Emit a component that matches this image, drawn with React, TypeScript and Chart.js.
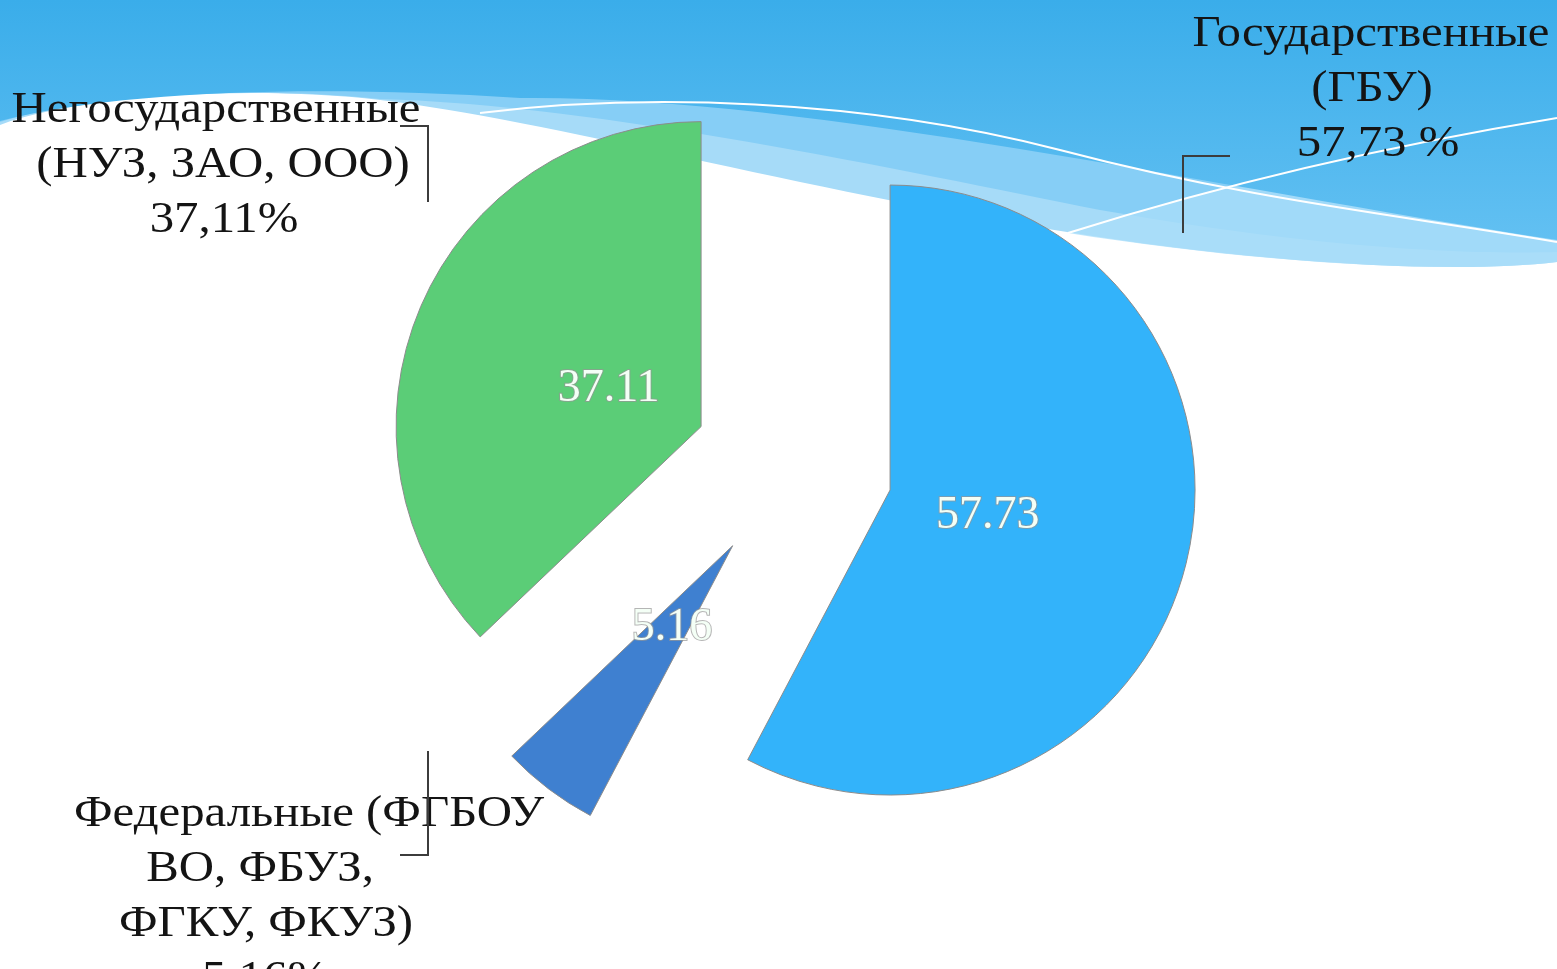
import React, { useEffect, useRef } from "react";
import { Chart, registerables } from "chart.js";

Chart.register(...registerables);

// ---- data ----
const categories = [
  "Государственные (ГБУ)",
  "Федеральные (ФГБОУ ВО, ФБУЗ, ФГКУ, ФКУЗ)",
  "Негосударственные (НУЗ, ЗАО, ООО)",
];
const values = [57.73, 5.16, 37.11];
const valueLabels = ["57.73", "5.16", "37.11"];
const calloutTexts = [
  ["Государственные", "(ГБУ)", "57,73 %"],
  ["Федеральные (ФГБОУ", "ВО, ФБУЗ,", "ФГКУ, ФКУЗ)", "5,16%"],
  ["Негосударственные", "(НУЗ, ЗАО, ООО)", "37,11%"],
];
const sliceColors = ["#33b3fa", "#3f80d0", "#5bcd77"];

// ---- layout / style ----
const EXPLODE = 100;
const SERIF = '"Liberation Serif", "Times New Roman", serif';
const TEXT_STRETCH = 1.085;
const calloutLayout = [
  { xs: [1371, 1372, 1378], y: 46 },
  { xs: [309, 260, 266, 265], y: 826 },
  { xs: [216, 223, 224], y: 122 },
];
const leaderLines = [
  [[1230, 156], [1183, 156], [1183, 233]],
  [[428, 751], [428, 855], [400, 855]],
  [[400, 126], [428, 126], [428, 202]],
];

const backgroundPlugin = {
  id: "slideBackground",
  beforeDraw(chart: any) {
    const ctx = chart.ctx as CanvasRenderingContext2D;
    const w = chart.width;
    ctx.save();
    ctx.fillStyle = "#ffffff";
    ctx.fillRect(0, 0, w, chart.height);

    // lightest band (above white boundary)
    ctx.beginPath();
    ctx.moveTo(0, 0);
    ctx.lineTo(0, 125);
    ctx.bezierCurveTo(80, 95, 250, 85, 380, 100);
    ctx.bezierCurveTo(550, 120, 800, 190, 1067, 232);
    ctx.bezierCurveTo(1250, 262, 1450, 275, 1557, 262);
    ctx.lineTo(w, 0);
    ctx.closePath();
    ctx.fillStyle = "#a6dbf8";
    ctx.fill();

    // mid band
    ctx.beginPath();
    ctx.moveTo(0, 0);
    ctx.lineTo(0, 122);
    ctx.bezierCurveTo(80, 95, 250, 85, 380, 99);
    ctx.bezierCurveTo(600, 105, 900, 170, 1100, 210);
    ctx.bezierCurveTo(1300, 245, 1450, 255, 1557, 252);
    ctx.lineTo(w, 0);
    ctx.closePath();
    ctx.fillStyle = "#86cef6";
    ctx.fill();

    // lighter wedge below the rising line
    ctx.beginPath();
    ctx.moveTo(1068, 233);
    ctx.quadraticCurveTo(1300, 160, 1557, 118);
    ctx.lineTo(1557, 262);
    ctx.bezierCurveTo(1450, 275, 1250, 262, 1068, 233);
    ctx.closePath();
    ctx.fillStyle = "rgba(170,221,249,0.75)";
    ctx.fill();

    // top gradient
    const g = ctx.createLinearGradient(0, 0, 0, 240);
    g.addColorStop(0, "#3aadea");
    g.addColorStop(1, "#62c0f2");
    ctx.beginPath();
    ctx.moveTo(0, 0);
    ctx.lineTo(0, 121);
    ctx.bezierCurveTo(120, 90, 320, 85, 520, 98);
    ctx.bezierCurveTo(800, 95, 1200, 185, 1557, 240);
    ctx.lineTo(w, 0);
    ctx.closePath();
    ctx.fillStyle = g;
    ctx.fill();

    // white wave lines
    ctx.strokeStyle = "#ffffff";
    ctx.lineWidth = 2;
    ctx.beginPath();
    ctx.moveTo(480, 113);
    ctx.bezierCurveTo(640, 93, 860, 98, 1060, 150);
    ctx.bezierCurveTo(1250, 200, 1400, 215, 1557, 242);
    ctx.stroke();
    ctx.beginPath();
    ctx.moveTo(1068, 233);
    ctx.quadraticCurveTo(1300, 160, 1557, 118);
    ctx.stroke();
    ctx.restore();
  },
};

const explodePlugin = {
  id: "explodeSlices",
  beforeDatasetDraw(chart: any, args: any) {
    const meta = chart.getDatasetMeta(args.index);
    const ctx = chart.ctx as CanvasRenderingContext2D;
    meta.data.forEach((arc: any) => {
      const mid = (arc.startAngle + arc.endAngle) / 2;
      ctx.save();
      ctx.translate(Math.cos(mid) * EXPLODE, Math.sin(mid) * EXPLODE);
      arc.draw(ctx, chart.chartArea);
      ctx.restore();
    });
    return false;
  },
  afterDatasetsDraw(chart: any) {
    const meta = chart.getDatasetMeta(0);
    const ctx = chart.ctx as CanvasRenderingContext2D;
    ctx.save();
    // value labels
    ctx.font = `46px ${SERIF}`;
    ctx.textAlign = "center";
    ctx.textBaseline = "middle";
    meta.data.forEach((arc: any, i: number) => {
      const mid = (arc.startAngle + arc.endAngle) / 2;
      const d = EXPLODE + arc.outerRadius * 0.33;
      const x = arc.x + Math.cos(mid) * d;
      const y = arc.y + Math.sin(mid) * d + 2;
      ctx.lineWidth = 2;
      ctx.strokeStyle = "rgba(150,150,150,0.7)";
      ctx.strokeText(valueLabels[i], x, y);
      ctx.fillStyle = "#f4fff6";
      ctx.fillText(valueLabels[i], x, y);
    });

    // callout labels
    ctx.font = `45px ${SERIF}`;
    ctx.fillStyle = "#141414";
    ctx.textBaseline = "alphabetic";
    calloutTexts.forEach((lines, i) => {
      const lay = calloutLayout[i];
      lines.forEach((t, j) => {
        ctx.save();
        ctx.translate(lay.xs[j], lay.y + j * 55);
        ctx.scale(TEXT_STRETCH, 1);
        ctx.fillText(t, 0, 0);
        ctx.restore();
      });
    });

    // leader lines
    ctx.strokeStyle = "#3c3c3c";
    ctx.lineWidth = 2;
    leaderLines.forEach((pts) => {
      ctx.beginPath();
      pts.forEach((p, k) => (k === 0 ? ctx.moveTo(p[0], p[1]) : ctx.lineTo(p[0], p[1])));
      ctx.stroke();
    });
    ctx.restore();
  },
};

export default function App() {
  const canvasRef = useRef<HTMLCanvasElement | null>(null);

  useEffect(() => {
    if (!canvasRef.current) return;
    const chart = new Chart(canvasRef.current, {
      type: "pie",
      data: {
        labels: categories,
        datasets: [
          {
            data: values,
            backgroundColor: sliceColors,
            borderColor: "#8c8c8c",
            borderWidth: 1,
          },
        ],
      },
      options: {
        responsive: false,
        animation: false,
        radius: 305,
        layout: { padding: { left: 29, right: 0, top: 0, bottom: 37 } },
        plugins: {
          legend: { display: false },
          tooltip: { enabled: false },
          title: { display: false },
        },
      } as any,
      plugins: [backgroundPlugin, explodePlugin],
    });
    return () => chart.destroy();
  }, []);

  return (
    <div style={{ position: "fixed", left: 0, top: 0, width: 1557, height: 969, overflow: "hidden" }}>
      <canvas ref={canvasRef} width={1557} height={969} style={{ display: "block" }} />
    </div>
  );
}
